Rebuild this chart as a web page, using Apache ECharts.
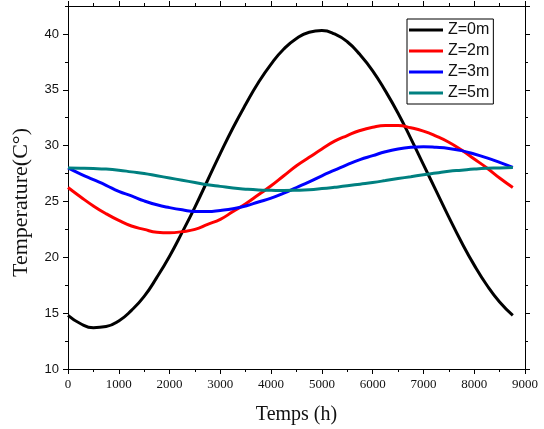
<!DOCTYPE html>
<html>
<head>
<meta charset="utf-8">
<script src="https://cdn.jsdelivr.net/npm/echarts@6/dist/echarts.min.js"></script>
<style>
  html, body { margin: 0; padding: 0; background: #fff; }
  #chart { width: 544px; height: 429px; }
</style>
</head>
<body>
<div id="chart"></div>
<script>
// temps (h)
const hours = [0, 250, 500, 750, 1000, 1250, 1500, 1750, 2000, 2250, 2500, 2750,
  3000, 3250, 3500, 3750, 4000, 4250, 4500, 4750, 5000, 5250, 5500, 5750,
  6000, 6250, 6500, 6750, 7000, 7250, 7500, 7750, 8000, 8250, 8500, 8760]

const z0 = [14.8, 14.05, 13.7, 13.8, 14.3, 15.25, 16.5, 18.2, 20.1, 22.25, 24.5, 26.9,
  29.3, 31.6, 33.7, 35.65, 37.3, 38.65, 39.6, 40.15, 40.3, 40.0, 39.3, 38.15,
  36.7, 34.9, 32.9, 30.65, 28.3, 25.95, 23.6, 21.35, 19.3, 17.5, 16.0, 14.8]
const z2 = [26.25, 25.4, 24.6, 23.9, 23.3, 22.8, 22.5, 22.25, 22.2, 22.3, 22.5, 22.95,
  23.4, 24.1, 24.8, 25.6, 26.4, 27.3, 28.2, 28.95, 29.7, 30.4, 30.9, 31.35,
  31.65, 31.8, 31.8, 31.6, 31.3, 30.85, 30.3, 29.6, 28.8, 28.0, 27.1, 26.25]
const z3 = [28.0, 27.45, 26.95, 26.45, 25.9, 25.5, 25.05, 24.7, 24.45, 24.25, 24.1, 24.1,
  24.2, 24.35, 24.6, 24.95, 25.3, 25.75, 26.25, 26.75, 27.3, 27.8, 28.3, 28.75,
  29.1, 29.45, 29.7, 29.85, 29.9, 29.85, 29.75, 29.55, 29.25, 28.9, 28.5, 28.05]
const z5 = [28.0, 27.98, 27.95, 27.9, 27.8, 27.65, 27.5, 27.3, 27.1, 26.9, 26.7, 26.5,
  26.35, 26.2, 26.1, 26.03, 26.0, 25.98, 26.0, 26.05, 26.15, 26.27, 26.4, 26.55,
  26.7, 26.87, 27.05, 27.22, 27.4, 27.55, 27.7, 27.8, 27.9, 27.97, 28.0, 28.05]

const names = ['Z=0m', 'Z=2m', 'Z=3m', 'Z=5m']
const colors = ['#000000', '#ff0000', '#0000ff', '#008080']

const pairs = (ys) => hours.map((h, i) => [h, ys[i]])

const serif = '"Liberation Serif", "Times New Roman", serif'
const sans = '"Liberation Sans", Arial, sans-serif'

const chart = echarts.init(document.getElementById('chart'))

// axe x (bas et haut)
const xBase = (pos, labels) => ({
  type: 'value',
  position: pos,
  min: 0,
  max: 9000,
  interval: 1000,
  splitLine: { show: false },
  axisLine: { show: true, lineStyle: { color: '#000', width: 1 } },
  axisTick: { show: true, inside: false, length: 5, lineStyle: { color: '#000' } },
  minorTick: { show: true, splitNumber: 2, length: 3, lineStyle: { color: '#000' } },
  axisLabel: {
    show: labels, color: '#111', fontFamily: serif, fontSize: 13, margin: 9,
    formatter: (v) => String(v)
  }
})

// axe y : graduations principales (5) et secondaires (2.5)
const yMajor = (pos, labels) => ({
  type: 'value',
  position: pos,
  min: 10,
  max: 42.5,
  interval: 5,
  splitLine: { show: false },
  axisLine: { show: true, lineStyle: { color: '#000', width: 1 } },
  axisTick: { show: true, inside: false, length: 5, lineStyle: { color: '#000' } },
  axisLabel: {
    show: labels, color: '#111', fontFamily: sans, fontSize: 13, margin: 9,
    showMaxLabel: false
  }
})
const yMinor = (pos) => ({
  type: 'value',
  position: pos,
  min: 10,
  max: 42.5,
  interval: 2.5,
  splitLine: { show: false },
  axisLine: { show: false },
  axisTick: { show: true, inside: false, length: 3, lineStyle: { color: '#000' } },
  axisLabel: { show: false }
})

const option = {
  backgroundColor: '#fff',
  animation: false,
  grid: { left: 68, right: 19, top: 6, bottom: 60, outerBoundsMode: 'none' },
  legend: {
    data: names,
    orient: 'vertical',
    left: 407,
    top: 19,
    icon: 'rect',
    itemWidth: 34,
    itemHeight: 3,
    itemGap: 5,
    itemTextGap: 5,
    padding: [3, 4, 3, 2],
    borderColor: '#000',
    borderWidth: 1,
    textStyle: { fontFamily: sans, fontSize: 16, color: '#111' }
  },
  xAxis: [
    Object.assign(xBase('bottom', true), {
      name: 'Temps (h)',
      nameLocation: 'middle',
      nameGap: 36,
      nameTextStyle: { fontFamily: serif, fontSize: 20, color: '#111' }
    }),
    xBase('top', false)
  ],
  yAxis: [
    Object.assign(yMajor('left', true), {
      name: 'Temperature(C°)',
      nameLocation: 'middle',
      nameGap: 36,
      nameTextStyle: {
        fontFamily: serif, fontSize: 22, color: '#111',
        padding: [0, 30, 0, 0]
      }
    }),
    yMinor('left'),
    yMajor('right', false),
    yMinor('right')
  ],
  series: [z0, z2, z3, z5].map((ys, i) => ({
    type: 'line',
    name: names[i],
    data: pairs(ys),
    smooth: true,
    showSymbol: false,
    clip: false,
    lineStyle: { color: colors[i], width: 3 },
    itemStyle: { color: colors[i] }
  }))
}

chart.setOption(option)
</script>
</body>
</html>
